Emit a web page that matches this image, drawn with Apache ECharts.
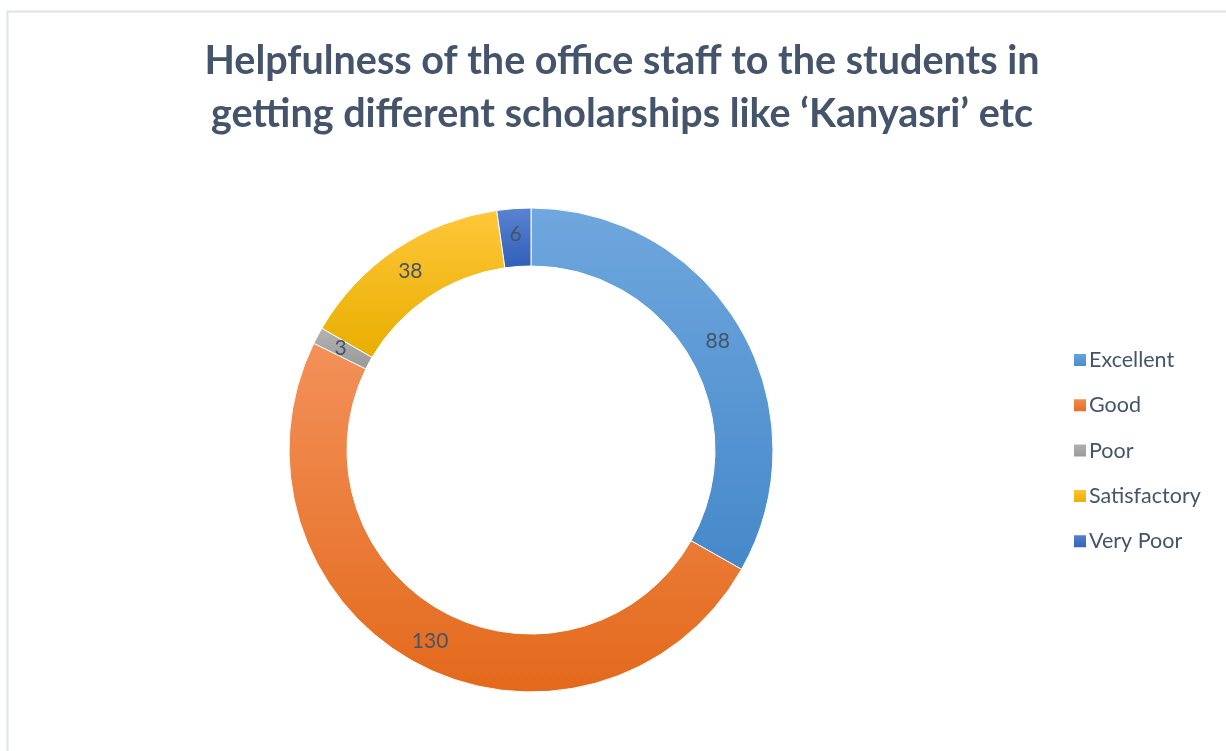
<!DOCTYPE html>
<html>
<head>
<meta charset="utf-8">
<script src="https://cdn.jsdelivr.net/npm/echarts@6/dist/echarts.min.js"></script>
<style>
  html, body { margin: 0; padding: 0; background: #ffffff; }
  #chart { width: 1226px; height: 751px; }
</style>
</head>
<body>
<div id="chart"></div>
<script>
// Survey responses
const categories = ['Excellent', 'Good', 'Poor', 'Satisfactory', 'Very Poor'];
const counts = [88, 130, 3, 38, 6];

// Light-to-dark fill per slice
const topColors = ['#6FA7DE', '#F3915A', '#B3B3B3', '#FFC73A', '#5A83D3'];
const bottomColors = ['#4588C9', '#E3691B', '#989898', '#E8AE00', '#2F5FB8'];

const titleLines = [
  'Helpfulness of the office staff to the students in',
  'getting different scholarships like \u2018Kanyasri\u2019 etc'
];

function fillFor(i) {
  return new echarts.graphic.LinearGradient(0, 0, 0, 1, [
    { offset: 0, color: topColors[i] },
    { offset: 1, color: bottomColors[i] }
  ]);
}

const chart = echarts.init(document.getElementById('chart'), null, { renderer: 'canvas' });

const textColor = '#44546A';
const fontFamily = 'Lato, "Open Sans", sans-serif';

chart.setOption({
  backgroundColor: '#ffffff',
  animation: false,
  graphic: [{
    type: 'rect',
    shape: { x: 7.5, y: 11.5, width: 1300, height: 800 },
    style: { fill: 'none', stroke: '#DEE4EA', lineWidth: 2 },
    silent: true
  }],
  title: {
    text: titleLines.join('\n'),
    left: 617,
    textAlign: 'center',
    top: 30,
    textStyle: {
      fontFamily: fontFamily,
      fontWeight: 'bold',
      fontSize: 39.5,
      lineHeight: 53,
      color: textColor
    }
  },
  legend: {
    orient: 'vertical',
    left: 1067,
    top: 344,
    itemWidth: 14,
    itemHeight: 14,
    itemGap: 23.3,
    icon: 'rect',
    data: categories,
    textStyle: {
      fontFamily: fontFamily,
      fontSize: 21.5,
      lineHeight: 20,
      color: textColor,
      padding: [0, 0, 0, -3]
    }
  },
  series: [{
    type: 'pie',
    center: [531, 450],
    radius: [184, 242],
    startAngle: 90,
    clockwise: true,
    avoidLabelOverlap: false,
    itemStyle: { borderColor: '#ffffff', borderWidth: 1 },
    label: {
      show: true,
      position: 'inside',
      formatter: '{c}',
      fontFamily: fontFamily,
      fontSize: 21,
      color: textColor
    },
    labelLine: { show: false },
    emphasis: { disabled: true },
    data: categories.map((name, i) => ({
      name: name,
      value: counts[i],
      itemStyle: { color: fillFor(i) }
    }))
  }]
});
</script>
</body>
</html>
